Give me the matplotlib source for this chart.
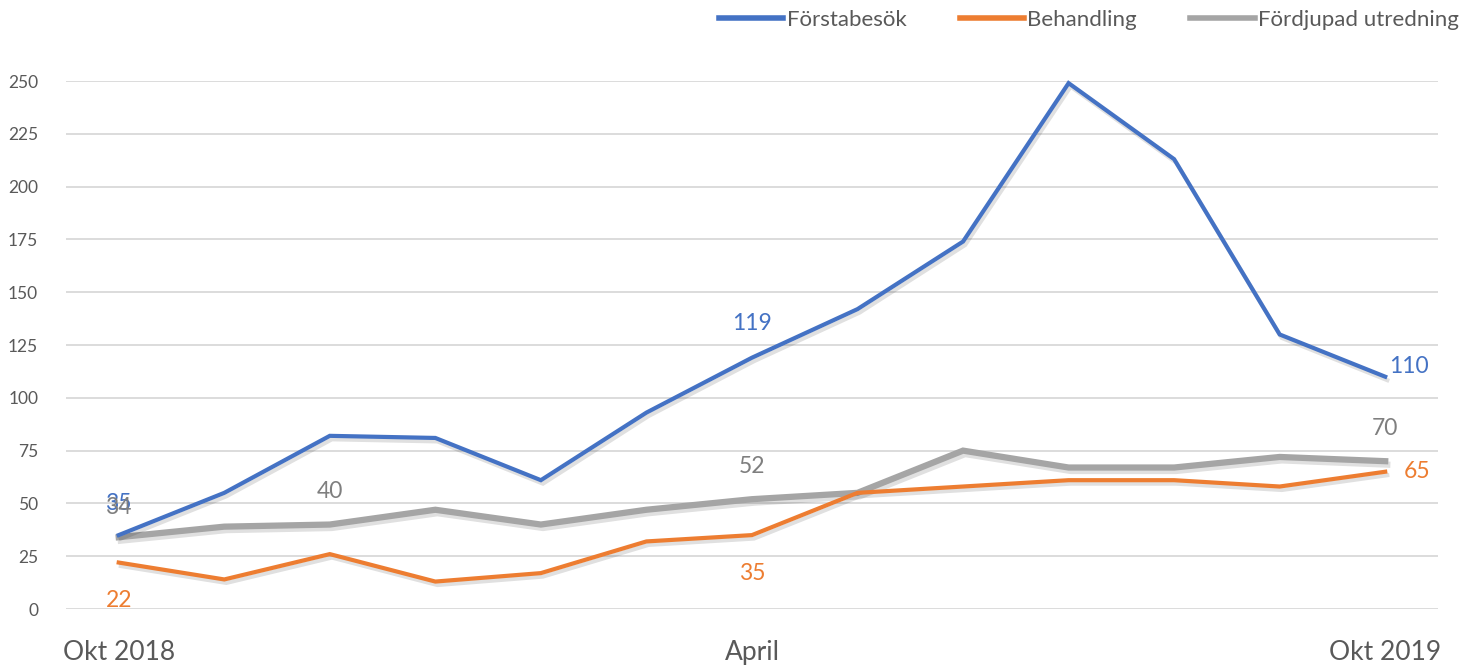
import numpy as np
import matplotlib
matplotlib.use("Agg")
import matplotlib.pyplot as plt
import matplotlib.patheffects as pe
from matplotlib.lines import Line2D

plt.rcParams['font.family'] = ['Lato', 'DejaVu Sans']

# ==============================
# Data
# ==============================
months = ["Okt 2018", "Nov", "Dec", "Jan", "Feb", "Mar", "April",
          "Maj", "Jun", "Jul", "Aug", "Sep", "Okt 2019"]
shown_ticks = {0: "Okt 2018", 6: "April", 12: "Okt 2019"}

forstabesok = [35, 55, 82, 81, 61, 93, 119, 142, 174, 249, 213, 130, 110]
behandling = [22, 14, 26, 13, 17, 32, 35, 55, 58, 61, 61, 58, 65]
fordjupad = [34, 39, 40, 47, 40, 47, 52, 55, 75, 67, 67, 72, 70]

series_names = ["Förstabesök", "Behandling", "Fördjupad utredning"]
colors = ["#4472C4", "#ED7D31", "#A5A5A5"]
label_colors = ["#4472C4", "#ED7D31", "#7F7F7F"]

# which points get a data label, and offset in pixels
labels = {
    0: [(0, (0, 32)), (6, (0, 34)), (12, (24, 10))],
    1: [(0, (0, -38)), (6, (0, -38)), (12, (32, 0))],
    2: [(0, (0, 30)), (2, (0, 33)), (6, (0, 33)), (12, (0, 33))],
}

# ==============================
# Plot
# ==============================
fig = plt.figure(figsize=(14.82, 6.68), dpi=100)
ax = fig.add_axes([0.0445, 0.0883, 0.9258, 0.7904])

x = np.arange(len(months))
all_series = [forstabesok, behandling, fordjupad]
widths = [3.0, 3.0, 4.5]
z = [4, 3, 2]

shadow = [pe.SimpleLineShadow(offset=(1.5, -2.5), shadow_color="k", alpha=0.12),
          pe.Normal()]
for i, (ys, c) in enumerate(zip(all_series, colors)):
    ax.plot(x, ys, color=c, lw=widths[i], zorder=z[i], clip_on=False,
            solid_joinstyle="miter", path_effects=shadow)

for i, pts in labels.items():
    for idx, off in pts:
        ax.annotate(str(all_series[i][idx]), (x[idx], all_series[i][idx]),
                    xytext=off, textcoords="offset pixels", ha="center", va="center",
                    fontsize=16.5, color=label_colors[i], zorder=6)

ax.set_xlim(-0.5, 12.5)
ax.set_ylim(0, 250)
ax.set_yticks(np.arange(0, 251, 25))
ax.set_xticks(list(shown_ticks.keys()))
ax.set_xticklabels(list(shown_ticks.values()), fontsize=19, color="#595959")
ax.tick_params(axis="y", labelsize=12.5, labelcolor="#595959", length=0, pad=20)
ax.tick_params(axis="x", length=0, pad=22)
ax.grid(axis="y", color="#D9D9D9", lw=1.3)
ax.set_axisbelow(True)
for s in ax.spines.values():
    s.set_visible(False)

handles = [Line2D([], [], color=c, lw=4) for c in colors]
leg = ax.legend(handles, series_names, loc="upper right",
                bbox_to_anchor=(1.0 + 41 / 1372, 1.0 + 91 / 528),
                ncol=3, frameon=False, fontsize=16, handlelength=2.9,
                handletextpad=0.15, columnspacing=2.4, labelcolor="#595959")

fig.savefig("out.png", dpi=100)
